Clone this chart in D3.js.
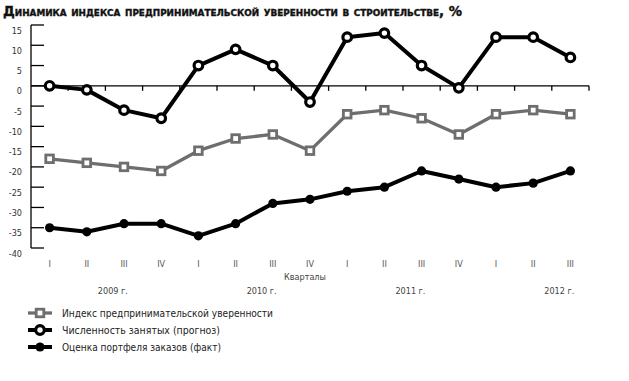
<!DOCTYPE html>
<html><head><meta charset="utf-8">
<script src="https://cdn.jsdelivr.net/npm/d3@7"></script>
<style>body{margin:0;background:#fff}svg{display:block}</style>
</head><body>
<script>
const quarters = ["I","II","III","IV","I","II","III","IV","I","II","III","IV","I","II","III"];
const years = ["2009 г.","2010 г.","2011 г.","2012 г."];
const confidenceIndex = [-18,-19,-20,-21,-16,-13,-12,-16,-7,-6,-8,-12,-7,-6,-7];
const employment = [0,-1,-6,-8,5,9,5,-4,12,13,5,-0.5,12,12,7];
const orders = [-35,-36,-34,-34,-37,-34,-29,-28,-26,-25,-21,-23,-25,-24,-21];
const yTicks = [15,10,5,0,-5,-10,-15,-20,-25,-30,-35,-40];
const seriesNames = ["Индекс предпринимательской уверенности","Численность занятых (прогноз)","Оценка портфеля заказов (факт)"];
const title = "Динамика индекса предпринимательской уверенности в строительстве, %";

const W = 629, H = 381;
const svg = d3.select("body").append("svg").attr("width", W).attr("height", H);
const idx = d3.range(quarters.length);
const x = d3.scaleBand().domain(idx).range([31, 589]).padding(0);
const cx = i => x(i) + x.bandwidth() / 2;
const y = d3.scaleLinear().domain([-40, 15]).range([248, 25]);
const GRAY = "#6e6e6e";
const condensed = "'Liberation Sans Narrow','DejaVu Sans Condensed',Roboto,sans-serif";

// Title
svg.append("text").attr("x", 3).attr("y", 16)
  .attr("font-family", "'DejaVu Sans Condensed','DejaVu Sans',sans-serif")
  .attr("font-weight", "bold").attr("font-size", 13.5)
  .style("font-variant", "small-caps")
  .attr("fill", "#111").attr("stroke", "#111").attr("stroke-width", 0.35)
  .attr("textLength", 459).attr("lengthAdjust", "spacingAndGlyphs")
  .text(title);

// Y axis
const gy = svg.append("g").attr("transform", "translate(31,0)");
gy.append("line").attr("x1", 0).attr("x2", 0).attr("y1", y(15)).attr("y2", y(-40)).attr("stroke", "#000").attr("stroke-width", 1.3);
gy.selectAll("line.t").data(yTicks).join("line").attr("class", "t")
  .attr("x1", 0).attr("x2", 13).attr("y1", d => y(d)).attr("y2", d => y(d))
  .attr("stroke", "#000").attr("stroke-width", 1.3);
gy.selectAll("text").data(yTicks).join("text")
  .attr("x", -9).attr("y", d => y(d) + 8.5)
  .attr("text-anchor", "end")
  .attr("font-family", condensed).attr("font-size", 9).attr("fill", "#333")
  .text(d => d);

// Zero line with ticks
svg.append("line").attr("x1", 31).attr("x2", 589).attr("y1", y(0)).attr("y2", y(0)).attr("stroke", "#000").attr("stroke-width", 1.3);
svg.selectAll("line.zt").data(idx).join("line").attr("class", "zt")
  .attr("x1", i => x(i) + x.bandwidth()).attr("x2", i => x(i) + x.bandwidth())
  .attr("y1", y(0)).attr("y2", y(0) + 5).attr("stroke", "#000").attr("stroke-width", 1.3);

// Quarter labels
svg.selectAll("text.q").data(quarters).join("text").attr("class", "q")
  .attr("x", (d, i) => cx(i)).attr("y", 267).attr("text-anchor", "middle")
  .attr("font-family", condensed).attr("font-size", 9).attr("fill", "#555")
  .text(d => d);
svg.append("text").attr("x", 305).attr("y", 280).attr("text-anchor", "middle")
  .attr("font-family", condensed).attr("font-size", 9).attr("fill", "#444").text("Кварталы");
svg.selectAll("text.yr").data(years).join("text").attr("class", "yr")
  .attr("x", (d, i) => x(i * 4) + x.bandwidth() * 2.2).attr("y", 294).attr("text-anchor", "middle")
  .attr("font-family", condensed).attr("font-size", 9).attr("fill", "#444")
  .text(d => d);

const line = d3.line().x((d, i) => cx(i)).y(d => y(d));

// Orders (black dots)
svg.append("path").datum(orders).attr("d", line).attr("fill", "none").attr("stroke", "#000").attr("stroke-width", 4).attr("stroke-linejoin", "round");
svg.selectAll("circle.o").data(orders).join("circle").attr("class", "o")
  .attr("cx", (d, i) => cx(i)).attr("cy", d => y(d)).attr("r", 4.6).attr("fill", "#000");

// Confidence index (gray squares)
svg.append("path").datum(confidenceIndex).attr("d", line).attr("fill", "none").attr("stroke", GRAY).attr("stroke-width", 3.3).attr("stroke-linejoin", "round");
svg.selectAll("rect.c").data(confidenceIndex).join("rect").attr("class", "c")
  .attr("x", (d, i) => cx(i) - 3.8).attr("y", d => y(d) - 3.8).attr("width", 7.6).attr("height", 7.6)
  .attr("fill", "#fff").attr("stroke", GRAY).attr("stroke-width", 2.8);

// Employment (open circles)
svg.append("path").datum(employment).attr("d", line).attr("fill", "none").attr("stroke", "#000").attr("stroke-width", 4).attr("stroke-linejoin", "round");
svg.selectAll("circle.e").data(employment).join("circle").attr("class", "e")
  .attr("cx", (d, i) => cx(i)).attr("cy", d => y(d)).attr("r", 4.3)
  .attr("fill", "#fff").attr("stroke", "#000").attr("stroke-width", 3.2);

// Legend
const lg = svg.append("g");
const ly = [313, 330, 347];
const lx1 = 28, lx2 = 52, lc = 40;
lg.append("line").attr("x1", lx1).attr("x2", lx2).attr("y1", ly[0]).attr("y2", ly[0]).attr("stroke", GRAY).attr("stroke-width", 3.3);
lg.append("rect").attr("x", lc - 3.8).attr("y", ly[0] - 3.8).attr("width", 7.6).attr("height", 7.6).attr("fill", "#fff").attr("stroke", GRAY).attr("stroke-width", 2.8);
lg.append("line").attr("x1", lx1).attr("x2", lx2).attr("y1", ly[1]).attr("y2", ly[1]).attr("stroke", "#000").attr("stroke-width", 4);
lg.append("circle").attr("cx", lc).attr("cy", ly[1]).attr("r", 4.3).attr("fill", "#fff").attr("stroke", "#000").attr("stroke-width", 3.2);
lg.append("line").attr("x1", lx1).attr("x2", lx2).attr("y1", ly[2]).attr("y2", ly[2]).attr("stroke", "#000").attr("stroke-width", 4);
lg.append("circle").attr("cx", lc).attr("cy", ly[2]).attr("r", 4.6).attr("fill", "#000");
const lens = [211, 158, 159];
lg.selectAll("text").data(seriesNames).join("text")
  .attr("x", 62).attr("y", (d, i) => ly[i] + 4)
  .attr("font-family", condensed).attr("font-size", 10.5).attr("fill", "#222")
  .attr("textLength", (d, i) => lens[i]).attr("lengthAdjust", "spacingAndGlyphs")
  .text(d => d);
</script>
</body></html>
